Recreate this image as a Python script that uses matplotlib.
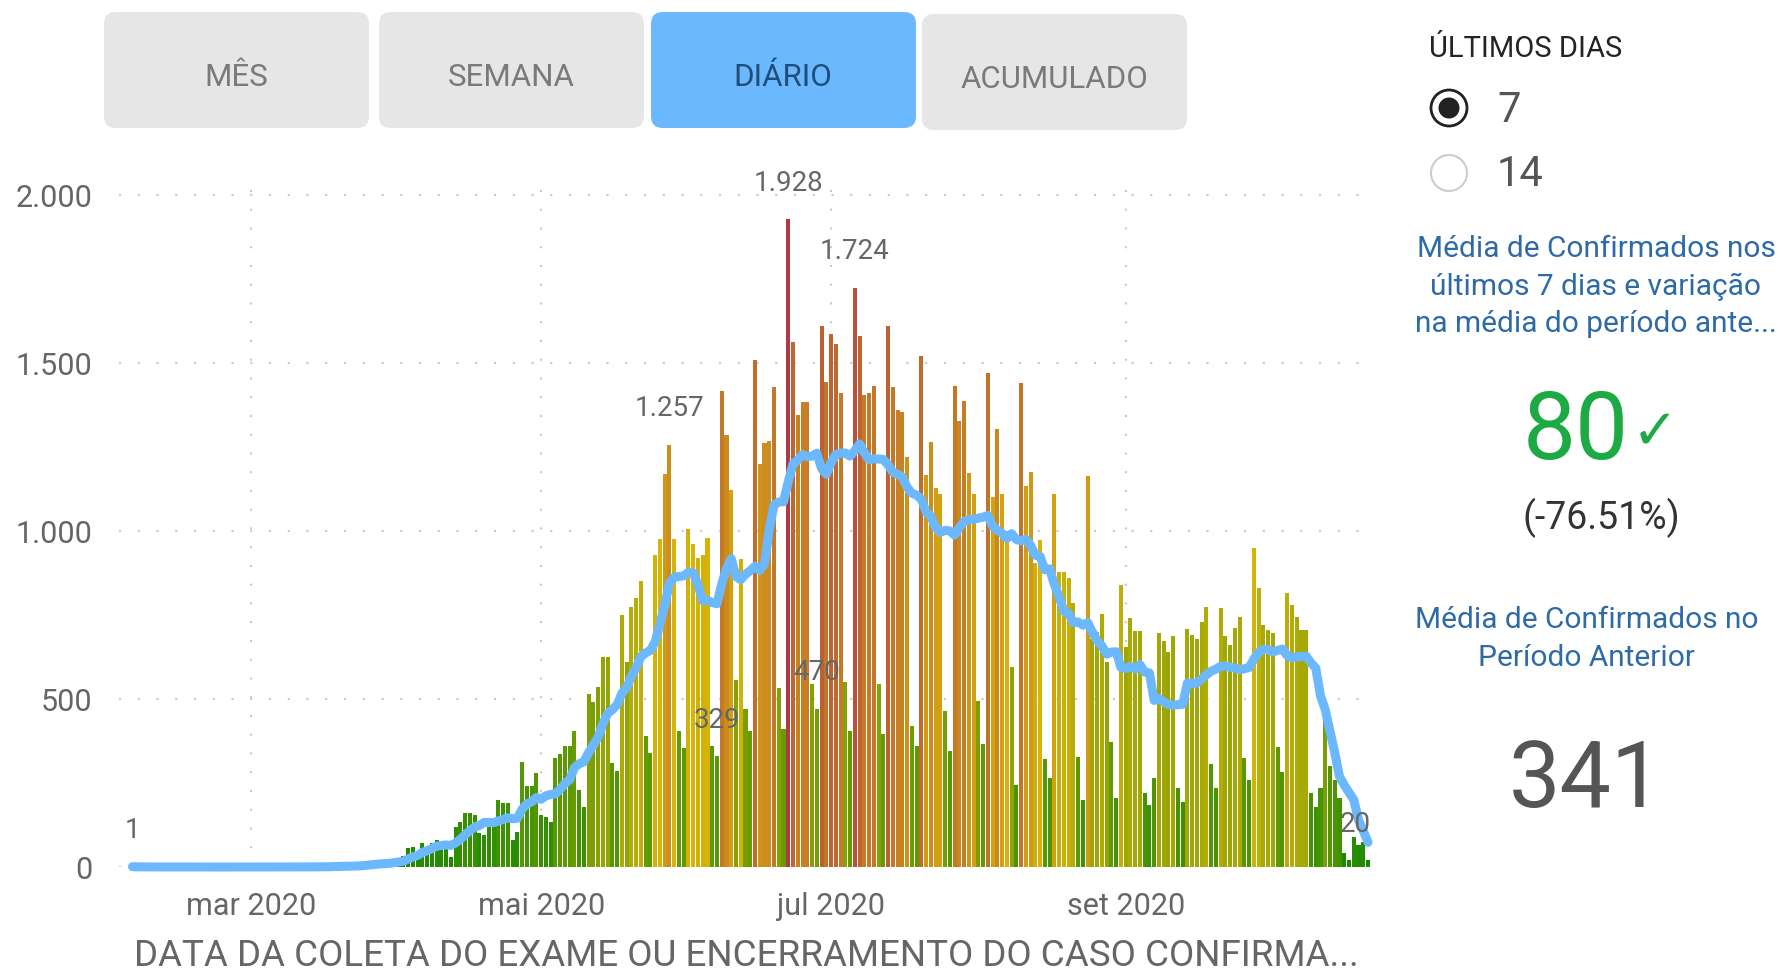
import numpy as np
import pandas as pd
import matplotlib
matplotlib.use("Agg")
import matplotlib.pyplot as plt
from matplotlib.colors import LinearSegmentedColormap, Normalize
from matplotlib.patches import FancyBboxPatch, Circle
from matplotlib.ticker import FuncFormatter

plt.rcParams["font.family"] = ["Roboto", "DejaVu Sans"]

# ---------------------------
# DATA (daily confirmed cases)
# ---------------------------
start_date = "2020-02-05"

feb_cases = [1, 0, 0, 0, 0, 0, 0, 0, 0, 0, 0, 0, 0, 0, 0, 0, 0, 0, 0, 0, 0, 0, 0, 0, 0]
mar_cases = [0, 0, 0, 0, 0, 0, 0, 0, 0, 0,
             0, 1, 0, 1, 2, 1, 0, 3, 2, 4,
             5, 3, 2, 6, 10, 14, 12, 16, 9, 8,
             20]
apr_cases = [25, 32, 57, 60, 40, 70, 55, 70, 80, 75,
             70, 30, 120, 135, 162, 162, 155, 100, 95, 120,
             130, 200, 190, 190, 80, 105, 312, 240, 240, 280]
may_cases = [155, 150, 135, 325, 335, 360, 360, 405, 230, 180,
             515, 490, 535, 625, 625, 310, 285, 750, 610, 775,
             800, 850, 390, 340, 930, 975, 1170, 1257, 975, 405,
             355]
jun_cases = [1005, 960, 920, 930, 980, 360, 329, 1417, 1285, 1122,
             558, 917, 470, 404, 1509, 1199, 1263, 1269, 1429, 532,
             410, 1928, 1562, 1346, 1385, 1385, 545, 470, 1609, 1442]
jul_cases = [1586, 1558, 1410, 551, 404, 1724, 1579, 1404, 1410, 1433,
             545, 397, 1609, 1429, 1359, 1353, 1221, 419, 359, 1522,
             1167, 1265, 1128, 1109, 465, 346, 1433, 1327, 1387, 1173,
             1109]
aug_cases = [494, 365, 1470, 1100, 1304, 1110, 1000, 596, 244, 1440,
             1135, 1176, 904, 973, 320, 264, 1109, 879, 879, 859,
             785, 328, 199, 1164, 680, 700, 752, 611, 373, 204,
             839]
sep_cases = [656, 740, 702, 702, 219, 185, 266, 695, 674, 641,
             688, 234, 192, 707, 690, 680, 730, 775, 306, 234,
             770, 688, 661, 710, 745, 323, 259, 948, 829, 720]
oct_cases = [705, 695, 358, 284, 814, 780, 745, 705, 705, 220,
             178, 235, 487, 300, 260, 205, 42, 22, 88, 64,
             74, 20]

# points that carry a data label in the original
label_dates = ["2020-02-05", "2020-05-28", "2020-06-07", "2020-06-22",
               "2020-06-28", "2020-07-06", "2020-10-22"]

tick_dates = ["2020-03-01", "2020-05-01", "2020-07-01", "2020-09-01"]
tick_labels = ["mar 2020", "mai 2020", "jul 2020", "set 2020"]
y_ticks = [0, 500, 1000, 1500, 2000]

buttons = ["MÊS", "SEMANA", "DIÁRIO", "ACUMULADO"]
active_button = "DIÁRIO"
radio_options = ["7", "14"]
selected_option = "7"

avg_last_7 = "80"
avg_change = "(-76.51%)"
avg_previous = "341"

x_title = "DATA DA COLETA DO EXAME OU ENCERRAMENTO DO CASO CONFIRMA..."

cases = np.array(feb_cases + mar_cases + apr_cases + may_cases + jun_cases
                 + jul_cases + aug_cases + sep_cases + oct_cases, dtype=float)
dates = pd.date_range(start_date, periods=len(cases), freq="D")
moving_avg = pd.Series(cases).rolling(7, min_periods=1).mean().values


def fmt_br(v):
    return f"{int(round(v)):,}".replace(",", ".")


# ---------------------------
# FIGURE
# ---------------------------
fig = plt.figure(figsize=(17.83, 9.73), dpi=100)
fig.patch.set_facecolor("white")

# layer in pixel units for the buttons and the side panel
bg = fig.add_axes([0, 0, 1, 1])
bg.set_xlim(0, 1783)
bg.set_ylim(973, 0)
bg.axis("off")

btn_x = [104, 379, 651, 922]
btn_y = [12, 12, 12, 14]
for name, bx, by in zip(buttons, btn_x, btn_y):
    active = name == active_button
    box = FancyBboxPatch((bx, by), 265, 116, boxstyle="round,pad=0,rounding_size=12",
                         facecolor="#6CB8FF" if active else "#E6E6E6", edgecolor="none")
    bg.add_patch(box)
    bg.text(bx + 132, by + 66, name, ha="center", va="center", fontsize=22.5,
            color="#1F4E7A" if active else "#7A7A7A")

# side panel
bg.text(1429, 49, "ÚLTIMOS DIAS", ha="left", va="center", fontsize=21, color="#252423")
for i, opt in enumerate(radio_options):
    cy = 108 + 65 * i
    if opt == selected_option:
        bg.add_patch(Circle((1449, cy), 18, facecolor="white", edgecolor="#222222", linewidth=2))
        bg.add_patch(Circle((1449, cy), 10.5, facecolor="#222222", edgecolor="none"))
    else:
        bg.add_patch(Circle((1449, cy), 18, facecolor="white", edgecolor="#CCCCCC", linewidth=1.5))
    bg.text(1497, cy + 2, opt, ha="left", va="center", fontsize=30, color="#555555")

blue_txt = "#2E6AA6"
for j, line in enumerate(["Média de Confirmados nos", "últimos 7 dias e variação",
                          "na média do período ante..."]):
    bg.text(1596, 249 + 37.5 * j, line, ha="center", va="center", fontsize=21.5, color=blue_txt)

bg.text(1576, 433, avg_last_7, ha="center", va="center", fontsize=68, color="#1DAA44")
bg.text(1655, 434, "✓", ha="center", va="center", fontsize=40, color="#1DAA44",
        family=["DejaVu Sans"])
bg.text(1601, 518, avg_change, ha="center", va="center", fontsize=27, color="#333333")

for j, line in enumerate(["Média de Confirmados no", "Período Anterior"]):
    bg.text(1587, 620 + 37.5 * j, line, ha="center", va="center", fontsize=21.5, color=blue_txt)
bg.text(1586, 781, avg_previous, ha="center", va="center", fontsize=66, color="#555555")

# ---------------------------
# MAIN CHART
# ---------------------------
ax = fig.add_axes([0.06674, 0.10894, 0.70331, 0.70791])
ax.patch.set_alpha(0)

cmap = LinearSegmentedColormap.from_list("gyr", ["#178A00", "#D8B408", "#B03848"])
norm = Normalize(vmin=cases.min(), vmax=cases.max())

ax.bar(dates, cases, width=0.85, color=cmap(norm(cases)), zorder=2)
ax.plot(dates, moving_avg, color="#6CB8FF", linewidth=6.5, zorder=3,
        solid_joinstyle="round", solid_capstyle="round", clip_on=False)

for ds in label_dates:
    d = pd.Timestamp(ds)
    v = cases[dates.get_loc(d)]
    last = d == dates[-1]
    ax.annotate(fmt_br(v), (d, v), xytext=(2 if last else 0, 26), textcoords="offset points",
                ha="right" if last else "center", va="center", fontsize=20,
                color="#666666", zorder=4)

mar1 = pd.Timestamp("2020-03-01")
ax.set_xlim(mar1 - pd.Timedelta(days=27.84), mar1 + pd.Timedelta(days=236.05))
ax.set_ylim(0, 2050)

ax.set_yticks(y_ticks)
ax.yaxis.set_major_formatter(FuncFormatter(lambda v, p: fmt_br(v)))
ax.set_xticks(pd.to_datetime(tick_dates))
ax.set_xticklabels(tick_labels)

ax.tick_params(length=0, labelsize=22, labelcolor="#666666")
ax.tick_params(axis="y", pad=19)
ax.tick_params(axis="x", pad=18)
for s in ax.spines.values():
    s.set_visible(False)

ax.grid(True, color="#C8C8C8", linestyle=(0, (1, 8)), linewidth=1.5)
ax.set_axisbelow(True)

ax.set_xlabel(x_title, fontsize=26.5, color="#666666", labelpad=12)

fig.savefig("out.png", dpi=100, facecolor="white")
